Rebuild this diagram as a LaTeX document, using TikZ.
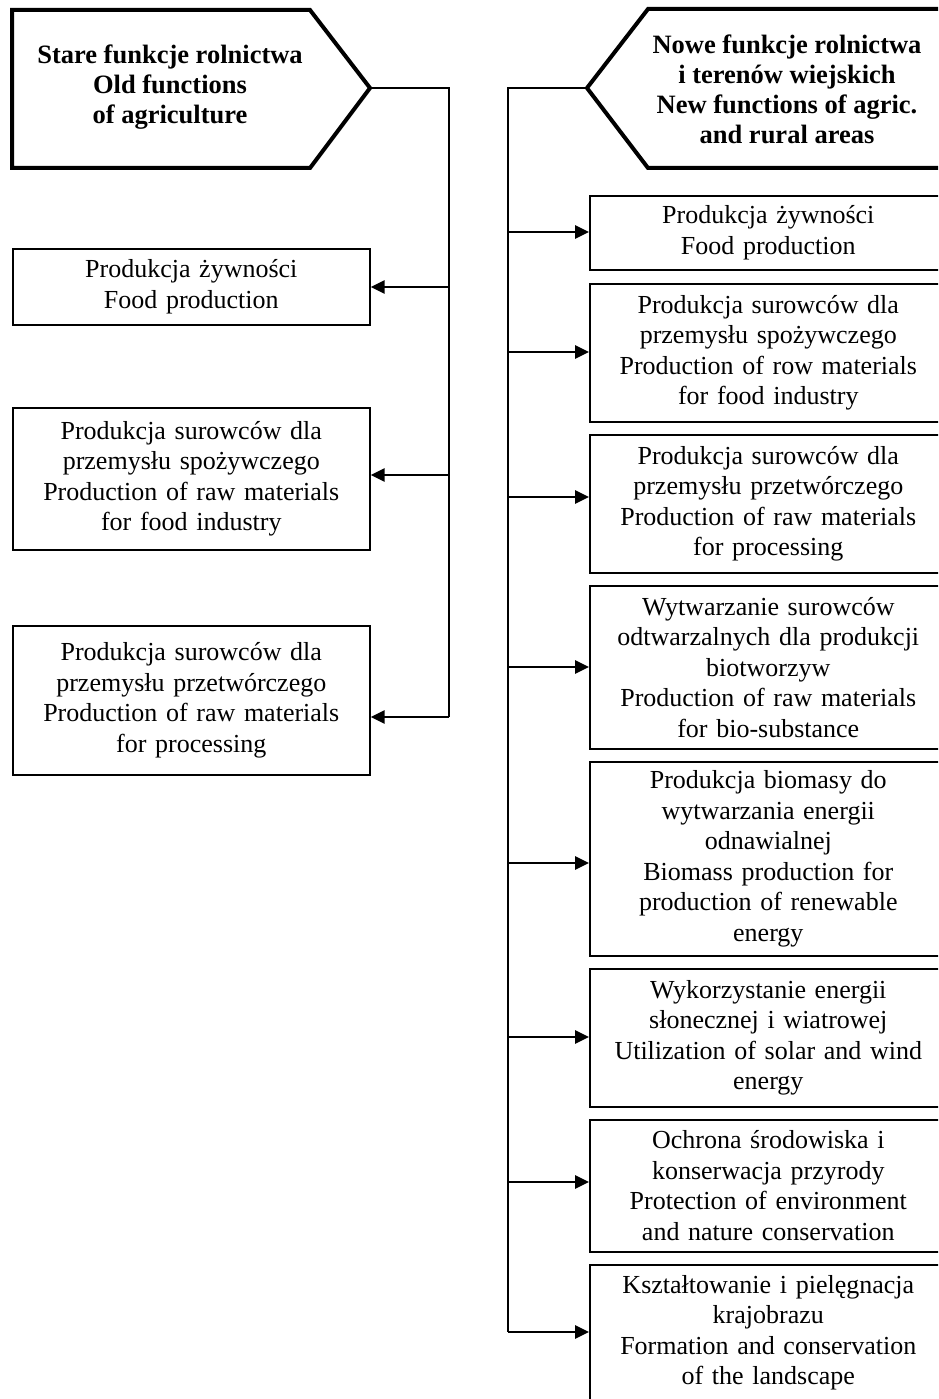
\documentclass[tikz,border=0pt]{standalone}
\usepackage{fontspec}
\setmainfont{Liberation Serif}
\usetikzlibrary{arrows.meta}

\tikzset{
  box/.style={draw, line width=1.6pt, minimum width=357pt, text width=350pt,
    align=center, inner sep=0pt, anchor=north west,
    font=\fontsize{26}{30.5}\selectfont},
  head/.style={line width=4pt, line join=miter},
  headtext/.style={align=center, font=\bfseries\fontsize{26.5}{30}\selectfont},
  bus/.style={line width=1.6pt},
  arr/.style={line width=2.8pt, -{Triangle[length=14pt,width=13pt]}},
}

\begin{document}
\begin{tikzpicture}[x=1pt,y=-1pt]
      \clip (0,0) rectangle (938,1399);
      % headers
      \draw[head] (12,10) -- (310,10) -- (370,88) -- (310,168) -- (12,168) -- cycle;
      \draw[head] (950,9) -- (648,9) -- (587,88) -- (648,168) -- (950,168);
      \node[headtext] (old) at (170,87) {Stare funkcje rolnictwa\\Old functions\\of agriculture};
      \node[headtext] (new) at (787,89) {Nowe funkcje rolnictwa\\i terenów wiejskich\\New functions of agric.\\and rural areas};
      \coordinate (oldtip) at (370,88);
      \coordinate (newtip) at (587,88);
      % old functions
      \node[box, minimum height=76pt] (o1) at (12,248) {Produkcja żywności\\Food production};
      \node[box, minimum height=142pt] (o2) at (12,407) {Produkcja surowców dla\\przemysłu spożywczego\\Production of raw materials\\for food industry};
      \node[box, minimum height=149pt] (o3) at (12,625) {Produkcja surowców dla\\przemysłu przetwórczego\\Production of raw materials\\for processing};
      % new functions
      \node[box, minimum height=74pt] (n1) at (589,195) {Produkcja żywności\\Food production};
      \node[box, minimum height=138pt] (n2) at (589,283) {Produkcja surowców dla\\przemysłu spożywczego\\Production of row materials\\for food industry};
      \node[box, minimum height=138pt] (n3) at (589,434) {Produkcja surowców dla\\przemysłu przetwórczego\\Production of raw materials\\for processing};
      \node[box, minimum height=163pt] (n4) at (589,585) {Wytwarzanie surowców\\odtwarzalnych dla produkcji\\biotworzyw\\Production of raw materials\\for bio-substance};
      \node[box, minimum height=194pt] (n5) at (589,761) {Produkcja biomasy do\\wytwarzania energii\\odnawialnej\\Biomass production for\\production of renewable\\energy};
      \node[box, minimum height=138pt] (n6) at (589,968) {Wykorzystanie energii\\słonecznej i wiatrowej\\Utilization of solar and wind\\energy};
      \node[box, minimum height=132pt] (n7) at (589,1119) {Ochrona środowiska i\\konserwacja przyrody\\Protection of environment\\and nature conservation};
      \node[box, minimum height=136pt] (n8) at (589,1264) {Kształtowanie i pielęgnacja\\krajobrazu\\Formation and conservation\\of the landscape};
      % buses
      \coordinate (ob1) at (449,287);
      \coordinate (ob2) at (449,475);
      \coordinate (ob3) at (449,717);
      \draw[bus] (oldtip) -- (oldtip -| ob3) -- (ob3);
      \coordinate (nb1) at (508,232);
      \coordinate (nb2) at (508,352);
      \coordinate (nb3) at (508,497);
      \coordinate (nb4) at (508,667);
      \coordinate (nb5) at (508,863);
      \coordinate (nb6) at (508,1037);
      \coordinate (nb7) at (508,1182);
      \coordinate (nb8) at (508,1332);
      \draw[bus] (newtip) -- (newtip -| nb8) -- (nb8);
      \begin{scope}[arr]
        \draw (ob1) to (ob1 -| o1.east);
        \draw (ob2) to (ob2 -| o2.east);
        \draw (ob3) to (ob3 -| o3.east);
        \draw (nb1) to (nb1 -| n1.west);
        \draw (nb2) to (nb2 -| n2.west);
        \draw (nb3) to (nb3 -| n3.west);
        \draw (nb4) to (nb4 -| n4.west);
        \draw (nb5) to (nb5 -| n5.west);
        \draw (nb6) to (nb6 -| n6.west);
        \draw (nb7) to (nb7 -| n7.west);
        \draw (nb8) to (nb8 -| n8.west);
      \end{scope}
    \end{tikzpicture}
\end{document}
